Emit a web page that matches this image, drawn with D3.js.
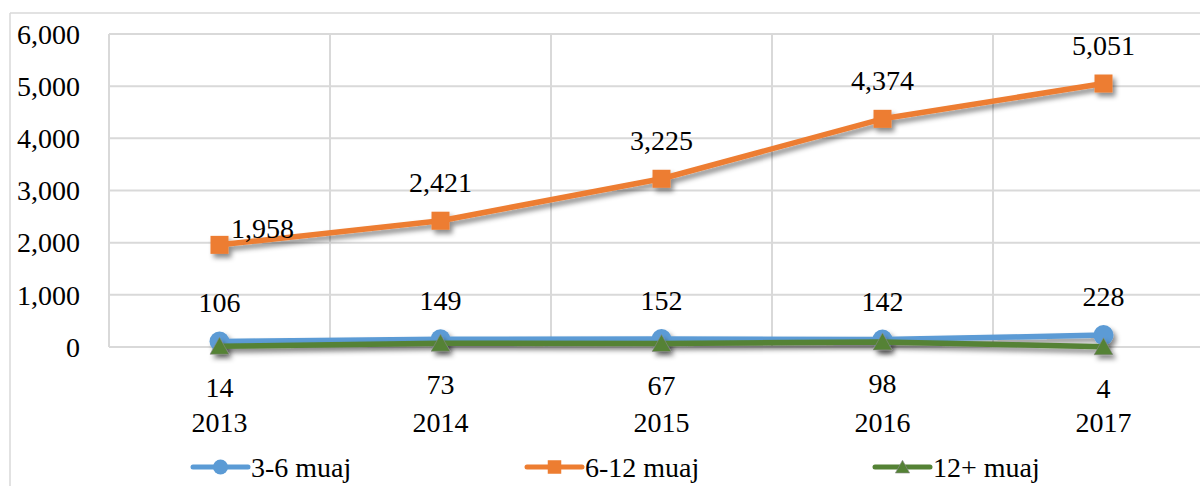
<!DOCTYPE html>
<head>
<meta charset="utf-8">
<style>
body { margin: 0; background: #fff; }
svg { display: block; }
.tick text, .lbl, .legend text {
  font-family: "Liberation Serif", "DejaVu Serif", serif;
  fill: #000;
}
</style>
</head>
<body>
<svg width="1200" height="486"></svg>
<script src="https://d3js.org/d3.v7.min.js"></script>
<script>

var years = ["2013", "2014", "2015", "2016", "2017"];
var yTicks = [0, 1000, 2000, 3000, 4000, 5000, 6000];
var s36 = [106, 149, 152, 142, 228];
var s612 = [1958, 2421, 3225, 4374, 5051];
var s12 = [14, 73, 67, 98, 4];

var series = [
  { name: "3-6 muaj", values: s36, color: "#5B9BD5", marker: "circle", pos: "above" },
  { name: "6-12 muaj", values: s612, color: "#ED7D31", marker: "square", pos: "above" },
  { name: "12+ muaj", values: s12, color: "#548235", marker: "triangle", pos: "below" }
];

var fs = "28px";
var svg = d3.select("svg");

var defs = svg.append("defs");
var f = defs.append("filter").attr("id", "shadow")
    .attr("x", "-50%").attr("y", "-50%").attr("width", "200%").attr("height", "200%");
f.append("feDropShadow").attr("dx", 3).attr("dy", 4).attr("stdDeviation", 2.5)
    .attr("flood-color", "#000").attr("flood-opacity", 0.45);

// frame of the surrounding document box
svg.append("line").attr("x1", 10).attr("x2", 10).attr("y1", 13).attr("y2", 486)
    .attr("stroke", "#d9d9d9").attr("stroke-width", 1.5);
svg.append("line").attr("x1", 10).attr("x2", 1200).attr("y1", 13).attr("y2", 13)
    .attr("stroke", "#d9d9d9").attr("stroke-width", 1.5);

var mLeft = 109, mTop = 34, mBottom = 347;
var x = d3.scaleBand().domain(years).range([mLeft, mLeft + 5 * 221]);
var y = d3.scaleLinear().domain([0, 6000]).range([mBottom, mTop]);
var cx = function(i) { return x(years[i]) + x.bandwidth() / 2; };

// gridlines
var grid = svg.append("g");
grid.selectAll(".h").data(yTicks).enter().append("line")
    .attr("x1", mLeft).attr("x2", 1200)
    .attr("y1", d => y(d)).attr("y2", d => y(d))
    .attr("stroke", "#d9d9d9").attr("stroke-width", 2);
grid.selectAll(".v").data(years).enter().append("line")
    .attr("x1", d => x(d)).attr("x2", d => x(d))
    .attr("y1", mTop).attr("y2", mBottom)
    .attr("stroke", "#d9d9d9").attr("stroke-width", 2);

// y axis labels
var yAxis = svg.append("g").attr("transform", "translate(" + (mLeft - 4) + ",0)")
    .call(d3.axisLeft(y).tickValues(yTicks).tickSize(0).tickPadding(25).tickFormat(d3.format(",")));
yAxis.select(".domain").remove();
yAxis.selectAll("text").style("font-size", fs).attr("dy", "0.33em");

// x axis labels
svg.append("g").selectAll("text").data(years).enter().append("text")
    .attr("class", "lbl")
    .attr("x", d => x(d) + x.bandwidth() / 2).attr("y", 432)
    .attr("text-anchor", "middle").style("font-size", fs)
    .text(d => d);

var line = d3.line().x((d, i) => cx(i)).y(d => y(d));

function drawMarker(g, type, px, py, color, sc) {
  if (type === "circle") {
    g.append("circle").attr("cx", px).attr("cy", py).attr("r", 10 * sc).attr("fill", color);
  } else if (type === "square") {
    var h = 9 * sc;
    g.append("rect").attr("x", px - h).attr("y", py - h).attr("width", 2 * h).attr("height", 2 * h).attr("fill", color);
  } else {
    var w = 9.5 * sc, t = 9 * sc, b = 8 * sc;
    g.append("path").attr("d", "M" + px + "," + (py - t) + "L" + (px + w) + "," + (py + b) + "L" + (px - w) + "," + (py + b) + "Z")
        .attr("fill", color).attr("stroke", "#8a8a8a").attr("stroke-width", 0.6);
  }
}

var plot = svg.append("g");
var order = [1, 0, 2];
order.forEach(function(k) {
  var s = series[k];
  var g = plot.append("g").attr("filter", "url(#shadow)");
  g.append("path").datum(s.values).attr("d", line)
      .attr("fill", "none").attr("stroke", s.color).attr("stroke-width", 5.5)
      .attr("stroke-linejoin", "round").attr("stroke-linecap", "round");
  s.values.forEach(function(v, i) {
    drawMarker(g, s.marker, cx(i), y(v), s.color, 1);
  });
});

// data labels
var fmt = d3.format(",");
series.forEach(function(s, k) {
  svg.append("g").selectAll("text").data(s.values).enter().append("text")
      .attr("class", "lbl")
      .attr("x", (d, i) => cx(i) + (k === 1 && i === 0 ? 43 : 0))
      .attr("y", (d, i) => s.pos === "above" ? y(d) - (k === 1 && i === 0 ? 7 : 29) : y(d) + 51)
      .attr("text-anchor", "middle").style("font-size", fs)
      .text(d => fmt(d));
});

// legend
var legX = [193, 527, 875];
var legend = svg.append("g").attr("class", "legend");
series.forEach(function(s, k) {
  var g = legend.append("g");
  g.append("line").attr("x1", legX[k]).attr("x2", legX[k] + 55).attr("y1", 467).attr("y2", 467)
      .attr("stroke", s.color).attr("stroke-width", 5).attr("stroke-linecap", "round");
  drawMarker(g, s.marker, legX[k] + 27.5, 467, s.color, 0.75);
  g.append("text").attr("x", legX[k] + 58).attr("y", 477).style("font-size", fs).text(s.name);
});

</script>
</body>
